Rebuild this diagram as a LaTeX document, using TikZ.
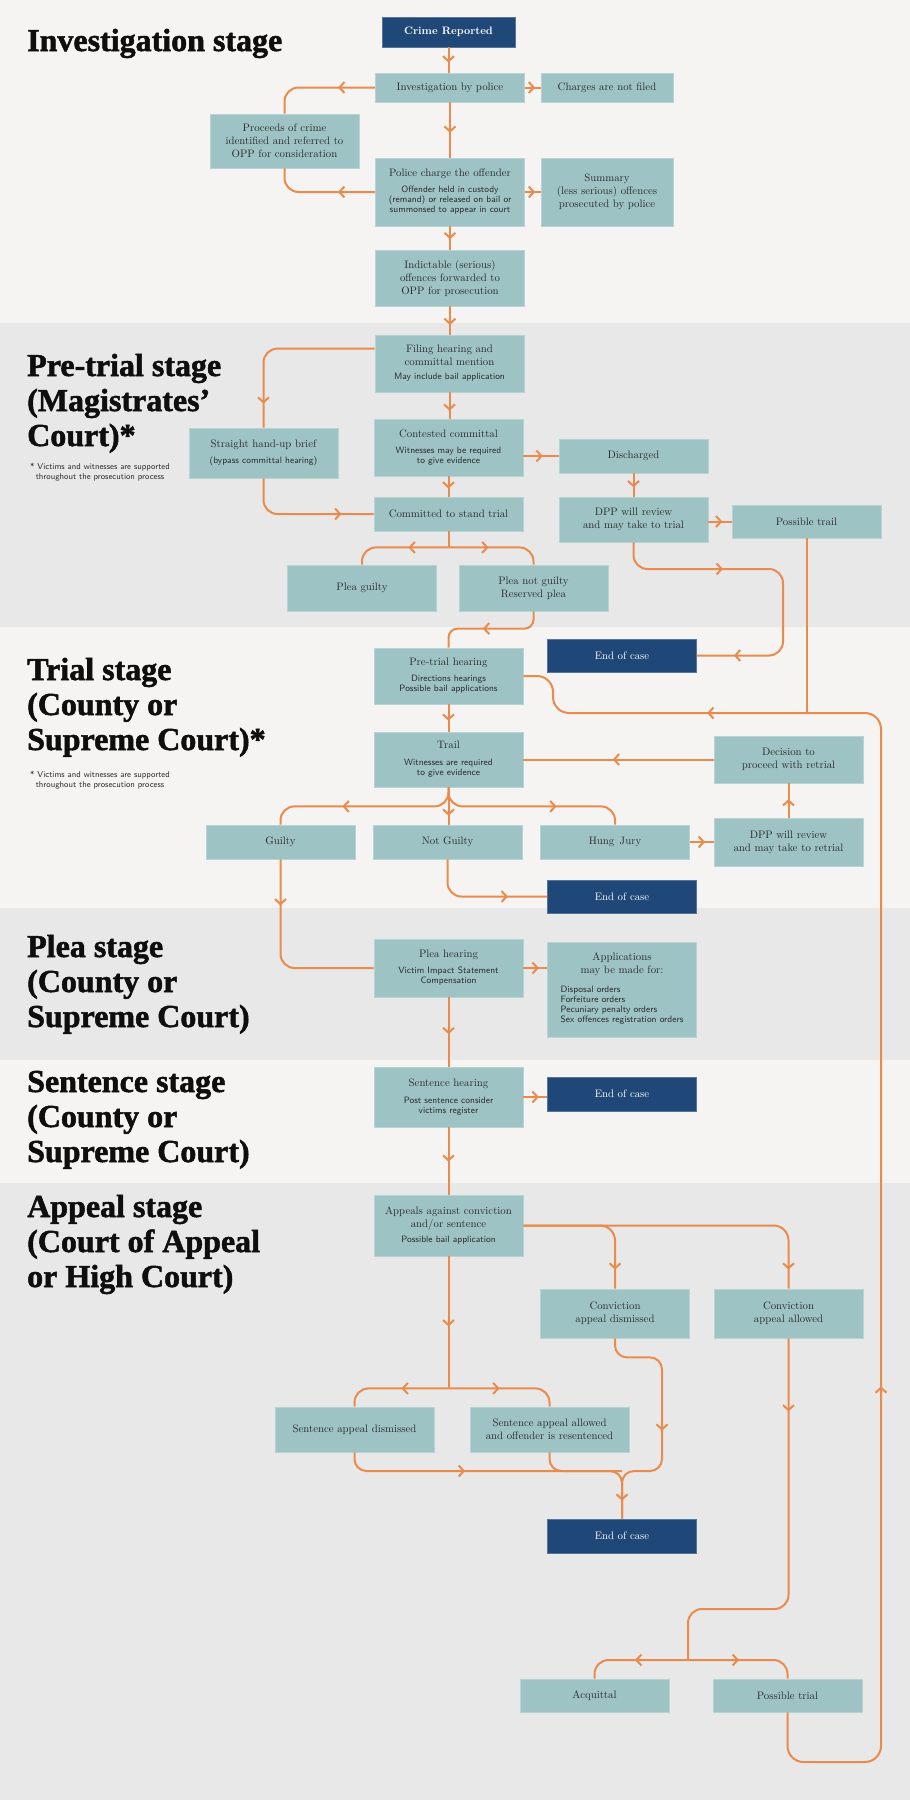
\documentclass[tikz,border=0pt]{standalone}
\usepackage{fontspec}
\newfontfamily\headfont{Liberation Serif}[BoldFeatures={FakeBold=1.6}]
\usetikzlibrary{arrows.meta,calc,decorations.markings}

\definecolor{bandlight}{HTML}{F5F4F2}
\definecolor{banddark}{HTML}{E8E8E8}
\definecolor{boxteal}{HTML}{9EC3C4}
\definecolor{boxedge}{HTML}{B7D3D3}
\definecolor{endblue}{HTML}{1F4777}
\definecolor{flowc}{HTML}{E98B4C}
\definecolor{boxtext}{HTML}{2B2B2B}
\definecolor{headtext}{HTML}{0E0E0E}

\newcommand{\subtxt}{\fontsize{9.2}{10}\sffamily\selectfont}
\newcommand{\notetxt}{\fontsize{8.5}{10}\sffamily\selectfont}
\newcommand{\stagefont}{\headfont\bfseries\fontsize{32}{35}\selectfont}

\tikzset{
  stagebox/.style={fill=boxteal, draw=boxedge, line width=0.8pt, text=boxtext,
    align=center, inner sep=1pt, minimum width=149pt, font=\fontsize{10.8}{13}\selectfont},
  endbox/.style={stagebox, fill=endblue, draw=endblue!75!white, text=white},
  stagetitle/.style={anchor=base west, inner sep=0pt, text=headtext, font=\stagefont},
  sidenote/.style={anchor=base, inner sep=0pt, text=boxtext, font=\notetxt},
  flow/.style={draw=flowc, line width=2pt, rounded corners=14pt},
  arr at/.style={postaction={decorate, decoration={markings,
    mark=at position #1 with {\pgfsetcornersarced{\pgfpointorigin}\arrow{>}}}}},
}

\begin{document}
\begin{tikzpicture}[x=1pt,y=-1pt,>={Straight Barb[length=5pt,width=11pt]}]
  \useasboundingbox (0,0) rectangle (910,1800);
  % stage bands
  \fill[bandlight] (0,0) rectangle (910,323);
  \fill[banddark] (0,323) rectangle (910,627);
  \fill[bandlight] (0,627) rectangle (910,908);
  \fill[banddark] (0,908) rectangle (910,1060);
  \fill[bandlight] (0,1060) rectangle (910,1183);
  \fill[banddark] (0,1183) rectangle (910,1800);

  % stage titles
  \node[stagetitle] (tInv) at (27,51) {Investigation stage};
  \node[stagetitle] (tPre) at (27,376) {\begin{tabular}[t]{@{}l@{}}Pre-trial stage\\(Magistrates’\\Court)*\end{tabular}};
  \node[sidenote] (nPre) at (100,469) {\begin{tabular}[t]{@{}c@{}}* Victims and witnesses are supported\\throughout the prosecution process\end{tabular}};
  \node[stagetitle] (tTrial) at (27,680) {\begin{tabular}[t]{@{}l@{}}Trial stage\\(County or\\Supreme Court)*\end{tabular}};
  \node[sidenote] (nTrial) at (100,777) {\begin{tabular}[t]{@{}c@{}}* Victims and witnesses are supported\\throughout the prosecution process\end{tabular}};
  \node[stagetitle] (tPlea) at (27,957) {\begin{tabular}[t]{@{}l@{}}Plea stage\\(County or\\Supreme Court)\end{tabular}};
  \node[stagetitle] (tSent) at (27,1092) {\begin{tabular}[t]{@{}l@{}}Sentence stage\\(County or\\Supreme Court)\end{tabular}};
  \node[stagetitle] (tApp) at (27,1217) {\begin{tabular}[t]{@{}l@{}}Appeal stage\\(Court of Appeal\\or High Court)\end{tabular}};

  % investigation stage
  \node[endbox, minimum width=133pt, minimum height=30pt, font=\bfseries\fontsize{10.8}{13}\selectfont] (crime) at (448.5,32) {Crime Reported};
  \node[stagebox, minimum height=29pt] (invest) at (450,87.5) {Investigation by police};
  \node[stagebox, minimum width=132pt, minimum height=29pt] (nocharge) at (607,87.5) {Charges are not filed};
  \node[stagebox, minimum height=54pt] (proceeds) at (284.5,141) {Proceeds of crime\\identified and referred to\\OPP for consideration};
  \node[stagebox, minimum height=68pt] (charge) at (450,192) {Police charge the offender\\[3pt]\subtxt Offender held in custody\\[-3pt]\subtxt (remand) or released on bail or\\[-3pt]\subtxt summonsed to appear in court};
  \node[stagebox, minimum width=132pt, minimum height=68pt] (summary) at (607,192) {Summary\\(less serious) offences\\prosecuted by police};
  \node[stagebox, minimum height=56pt] (indict) at (450,278) {Indictable (serious)\\offences forwarded to\\OPP for prosecution};

  % pre-trial stage
  \node[stagebox, minimum height=57pt] (filing) at (449.5,363.5) {Filing hearing and\\committal mention\\[1pt]\subtxt May include bail application};
  \node[stagebox, minimum height=50pt] (handup) at (263.5,453) {Straight hand-up brief\\[3pt]\subtxt (bypass committal hearing)};
  \node[stagebox, minimum height=57pt] (contest) at (448.5,447.5) {Contested committal\\[3pt]\subtxt Witnesses may be required\\[-3pt]\subtxt to give evidence};
  \node[stagebox, minimum height=34pt] (discharged) at (633.5,456) {Discharged};
  \node[stagebox, minimum height=34pt] (committed) at (448.5,514) {Committed to stand trial};
  \node[stagebox, minimum height=45pt] (dppreview) at (633.5,519.5) {DPP will review\\and may take to trial};
  \node[stagebox, minimum height=33pt] (posstrail) at (806.5,521.5) {Possible trail};
  \node[stagebox, minimum height=46pt] (pleaguilty) at (362,588) {Plea guilty};
  \node[stagebox, minimum height=46pt] (pleanot) at (533.5,588) {Plea not guilty\\Reserved plea};

  % trial stage
  \node[endbox, minimum height=33pt] (endA) at (622,655.5) {End of case};
  \node[stagebox, minimum height=56pt] (pretrialhear) at (448.5,676) {Pre-trial hearing\\[3pt]\subtxt Directions hearings\\[-3pt]\subtxt Possible bail applications};
  \node[stagebox, minimum height=55pt] (trail) at (448.5,759.5) {Trail\\[4pt]\subtxt Witnesses are required\\[-3pt]\subtxt to give evidence};
  \node[stagebox, minimum height=47pt] (decision) at (788.5,759.5) {Decision to\\proceed with retrial};
  \node[stagebox, minimum height=34pt] (guilty) at (280.5,842) {Guilty};
  \node[stagebox, minimum height=34pt] (notguilty) at (447.5,842) {Not Guilty};
  \node[stagebox, minimum height=34pt] (hung) at (615,842) {Hung\enspace Jury};
  \node[stagebox, minimum height=48pt] (dppretrial) at (788.5,842) {DPP will review\\and may take to retrial};
  \node[endbox, minimum height=33pt] (endB) at (622,896.5) {End of case};

  % plea and sentence stages
  \node[stagebox, minimum height=58pt] (pleahear) at (448.5,968) {Plea hearing\\[3pt]\subtxt Victim Impact Statement\\[-3pt]\subtxt Compensation};
  \node[stagebox, minimum height=95pt] (applic) at (622,989.5) {Applications\\may be made for:\\[6pt]\subtxt\begin{tabular}[t]{@{}l@{}}Disposal orders\\Forfeiture orders\\Pecuniary penalty orders\\Sex offences registration orders\end{tabular}};
  \node[stagebox, minimum height=60pt] (senthear) at (448.5,1097) {Sentence hearing\\[4pt]\subtxt Post sentence consider\\[-3pt]\subtxt victims register};
  \node[endbox, minimum height=34pt] (endC) at (622,1094) {End of case};

  % appeal stage
  \node[stagebox, minimum height=61pt] (appeals) at (448.5,1225.5) {Appeals against conviction\\and/or sentence\\[2pt]\subtxt Possible bail application};
  \node[stagebox, minimum height=49pt] (convdis) at (615,1313.5) {Conviction\\appeal dismissed};
  \node[stagebox, minimum height=49pt] (convall) at (788.5,1313.5) {Conviction\\appeal allowed};
  \node[stagebox, minimum width=159pt, minimum height=45pt] (sentdis) at (354.5,1429.5) {Sentence appeal dismissed};
  \node[stagebox, minimum width=159pt, minimum height=45pt] (sentall) at (549.5,1429.5) {Sentence appeal allowed\\and offender is resentenced};
  \node[endbox, minimum height=34pt] (endD) at (622,1536) {End of case};
  \node[stagebox, minimum height=33pt] (acquit) at (594.5,1695.5) {Acquittal};
  \node[stagebox, minimum height=33pt] (posstrial) at (787.5,1695.5) {Possible trial};

  % bends of the long connectors
  \coordinate (dppbend) at (783,569);
  \coordinate (loopfoot) at (881,1762);
  \coordinate (looptop) at (881,713);
  \coordinate (loopjoin) at (553,713);
  \coordinate (mergeR) at (662,1471);
  \coordinate (acqbend) at (688,1609);
  \coordinate (acqsplit) at (688,1660);

  % investigation flow
  \draw[flow, arr at=0.6] (crime.south) -- (crime.south |- invest.north);
  \draw[flow, arr at=0.65] (invest.east) -- (nocharge.west);
  \draw[flow, arr at=37pt] (invest.west) -| (proceeds.north);
  \draw[flow, arr at=37pt] (charge.west) -| (proceeds.south);
  \draw[flow, arr at=0.55] (invest.south) -- (charge.north);
  \draw[flow, arr at=0.65] (charge.east) -- (summary.west);
  \draw[flow, arr at=0.55] (charge.south) -- (indict.north);
  \draw[flow, arr at=0.66] (indict.south) -- (indict.south |- filing.north);

  % pre-trial flow
  \draw[flow, arr at=0.87] ($(filing.north west)+(0,14)$) -| (handup.north);
  \draw[flow, arr at=0.77] (handup.south) |- (committed.west);
  \draw[flow, arr at=0.7] (filing.south) -- (filing.south |- contest.north);
  \draw[flow, arr at=0.55] (contest.east |- discharged.west) -- (discharged.west);
  \draw[flow, arr at=0.6] (contest.south) -- (committed.north);
  \draw[flow, arr at=0.6] (discharged.south) -- (dppreview.north);
  \draw[flow, arr at=0.6] (dppreview.east |- posstrail.west) -- (posstrail.west);
  \draw[flow] (committed.south) -- ++(0,16) coordinate (pleasplit);
  \draw[flow, arr at=40pt] (pleasplit) -| (pleaguilty.north);
  \draw[flow, arr at=40pt] (pleasplit) -| (pleanot.north);
  \draw[flow, rounded corners=9pt, arr at=64pt] (pleanot.south) |- ($(pretrialhear.north)+(0,-19)$) -- (pretrialhear.north);
  \draw[flow, arr at=110pt, arr at=-37pt] (dppreview.south) |- (dppbend) |- (endA.east);
  \draw[flow] (posstrail.south) -- (posstrail.south |- looptop);

  % trial flow
  \draw[flow, arr at=0.6] (pretrialhear.south) -- (trail.north);
  \draw[flow, arr at=0.53] (decision.west) -- (trail.east);
  \draw[flow, arr at=0.54] (dppretrial.north) -- (decision.south);
  \draw[flow, arr at=0.64] (hung.east) -- (dppretrial.west);
  \draw[flow, arr at=119pt] (trail.south) -- ++(0,19) -| (guilty.north);
  \draw[flow, arr at=0.76] (trail.south) -- (trail.south |- notguilty.north);
  \draw[flow, arr at=121pt] (trail.south) -- ++(0,19) -| (hung.north);
  \draw[flow, arr at=0.7] (notguilty.south) |- (endB.west);
  \draw[flow, arr at=46pt] (guilty.south) |- (pleahear.west);

  % plea and sentence flow
  \draw[flow, arr at=0.65] (pleahear.east) -- (pleahear.east -| applic.west);
  \draw[flow, arr at=0.53] (pleahear.south) -- (senthear.north);
  \draw[flow, arr at=0.65] (senthear.east) -- (senthear.east -| endC.west);
  \draw[flow, arr at=0.51] (senthear.south) -- (appeals.north);

  % appeal flow
  \draw[flow, rounded corners=15pt, arr at=-19pt] (appeals.east) -| (convall.north);
  \draw[flow, rounded corners=15pt, arr at=-19pt] (appeals.east) -| (convdis.north);
  \draw[flow, arr at=0.53] (appeals.south) -- ++(0,132) coordinate (sentsplit);
  \draw[flow, arr at=47pt] (sentsplit) -| (sentdis.north);
  \draw[flow, arr at=51pt] (sentsplit) -| (sentall.north);
  \draw[flow, rounded corners=12pt, arr at=129pt, arr at=-18pt] (convdis.south) -- ++(0,19) -| (mergeR) -| (endD.north);
  \draw[flow, rounded corners=12pt, arr at=124pt] (sentdis.south) |- (endD.north |- mergeR) -- (endD.north);
  \draw[flow, rounded corners=12pt] (sentall.south) |- (endD.north |- mergeR);
  \draw[flow, arr at=73pt] (convall.south) |- (acqbend) -- (acqsplit);
  \draw[flow, arr at=53pt] (acqsplit) -| (acquit.north);
  \draw[flow, arr at=51pt] (acqsplit) -| (posstrial.north);

  % retrial loop back to the pre-trial hearing
  \draw[flow, rounded corners=16pt, arr at=505pt, arr at=-207pt] (posstrial.south) |- (loopfoot) -- (looptop) -- (loopjoin) |- (pretrialhear.east);
\end{tikzpicture}
\end{document}
